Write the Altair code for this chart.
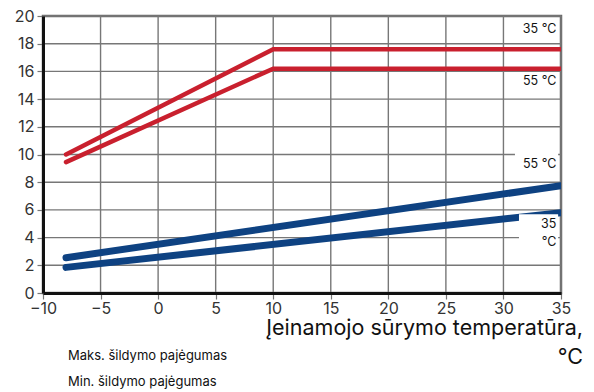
import altair as alt
import pandas as pd

# data
x_red = [-8, 10, 35]
red_35 = [10.0, 17.6, 17.6]
red_55 = [9.45, 16.2, 16.2]
x_blue = [-8, 35]
blue_55 = [2.55, 7.75]
blue_35 = [1.85, 5.8]

x_ticks = [-10, -5, 0, 5, 10, 15, 20, 25, 30, 35]
y_ticks = [0, 2, 4, 6, 8, 10, 12, 14, 16, 18, 20]

# curve labels (data coordinates)
lab_text = ["35 °C", "55 °C", "55 °C", "35", "°C"]
lab_x = [34.6, 34.6, 34.6, 34.6, 34.6]
lab_y = [19.05, 15.3, 9.35, 4.95, 3.7]
# white backgrounds behind the blue-curve labels
box_x1 = [31.0, 31.35]
box_x2 = [34.75, 34.75]
box_y1 = [8.55, 3.2]
box_y2 = [10.1, 5.68]

xlabel_1 = "Įeinamojo sūrymo temperatūra,"
xlabel_2 = "°C"
legend_texts = ["Maks. šildymo pajėgumas", "Min. šildymo pajėgumas"]

FONT = "Inter"

rows = []
for s, yv in (("r35", red_35), ("r55", red_55)):
    for i, (x, y) in enumerate(zip(x_red, yv)):
        rows.append({"s": s, "x": x, "y": y, "o": i})
red_df = pd.DataFrame(rows)
rows = []
for s, yv in (("b55", blue_55), ("b35", blue_35)):
    for i, (x, y) in enumerate(zip(x_blue, yv)):
        rows.append({"s": s, "x": x, "y": y, "o": i})
blue_df = pd.DataFrame(rows)

xs = alt.Scale(domain=[-10, 35], nice=False, zero=False)
ys = alt.Scale(domain=[0, 20], nice=False, zero=False)

x_axis = alt.Axis(values=x_ticks, grid=False,
                  domainColor="#111111", domainWidth=3, tickColor="#777777",
                  tickSize=6, tickWidth=1.2, labelFontSize=16, labelColor="#333333",
                  labelFont=FONT, labelPadding=1, title=None, labelFlush=False,
                  labelOverlap=False, zindex=2)
y_axis = alt.Axis(values=y_ticks, grid=False,
                  domainColor="#111111", domainWidth=3, tickColor="#777777",
                  tickSize=6, tickWidth=1.2, labelFontSize=16, labelColor="#333333",
                  labelFont=FONT, labelPadding=3, title=None, labelOverlap=False,
                  labelFlush=False, zindex=2)


def X(f):
    return alt.X(f, scale=xs, axis=x_axis)


def Y(f):
    return alt.Y(f, scale=ys, axis=y_axis)


vgrid = alt.Chart(pd.DataFrame({"gx": x_ticks})).mark_rule(
    color="#777777", strokeWidth=1.4).encode(x=X("gx:Q"))
hgrid = alt.Chart(pd.DataFrame({"gy": y_ticks})).mark_rule(
    color="#777777", strokeWidth=1.4).encode(y=Y("gy:Q"))

red = alt.Chart(red_df).mark_line(color="#c9202e", strokeWidth=4.5, strokeCap="round", clip=True).encode(
    x=X("x:Q"), y=Y("y:Q"), detail="s:N", order="o:Q")

blue = alt.Chart(blue_df).mark_line(color="#0e4282", strokeWidth=7, strokeCap="round", clip=True).encode(
    x=X("x:Q"), y=Y("y:Q"), detail="s:N", order="o:Q")

box_df = pd.DataFrame({"x1": box_x1, "x2": box_x2, "y1": box_y1, "y2": box_y2})
boxes = alt.Chart(box_df).mark_rect(color="white").encode(
    x=X("x1:Q"), x2="x2:Q", y=Y("y1:Q"), y2="y2:Q")

lab_df = pd.DataFrame({"t": lab_text, "x": lab_x, "y": lab_y})
labels = alt.Chart(lab_df).mark_text(align="right", baseline="middle", fontSize=12.5,
                                     font=FONT, color="#111").encode(
    x=X("x:Q"), y=Y("y:Q"), text="t:N")

title1 = alt.Chart(pd.DataFrame({"t": [xlabel_1]})).mark_text(
    align="right", baseline="middle", fontSize=21.5, font=FONT, color="#111").encode(
    x=alt.value(540), y=alt.value(313), text="t:N")
title2 = alt.Chart(pd.DataFrame({"t": [xlabel_2]})).mark_text(
    align="right", baseline="middle", fontSize=21.5, font=FONT, color="#111").encode(
    x=alt.value(540), y=alt.value(342), text="t:N")

legend1 = alt.Chart(pd.DataFrame({"t": [legend_texts[0]]})).mark_text(
    align="left", baseline="middle", fontSize=13, font=FONT, color="#111").encode(
    x=alt.value(25), y=alt.value(340), text="t:N")
legend2 = alt.Chart(pd.DataFrame({"t": [legend_texts[1]]})).mark_text(
    align="left", baseline="middle", fontSize=13, font=FONT, color="#111").encode(
    x=alt.value(25), y=alt.value(366), text="t:N")

chart = alt.layer(vgrid, hgrid, red, blue, boxes, labels, title1, title2, legend1, legend2).properties(
    width=518, height=277,
    autosize=alt.AutoSizeParams(type="none"),
    padding={"left": 35, "top": 8, "right": 25, "bottom": 98},
).configure_view(stroke="#6a6a6a", strokeWidth=2.5)

chart.save("out.html", embed_options={"renderer": "svg", "actions": False})
